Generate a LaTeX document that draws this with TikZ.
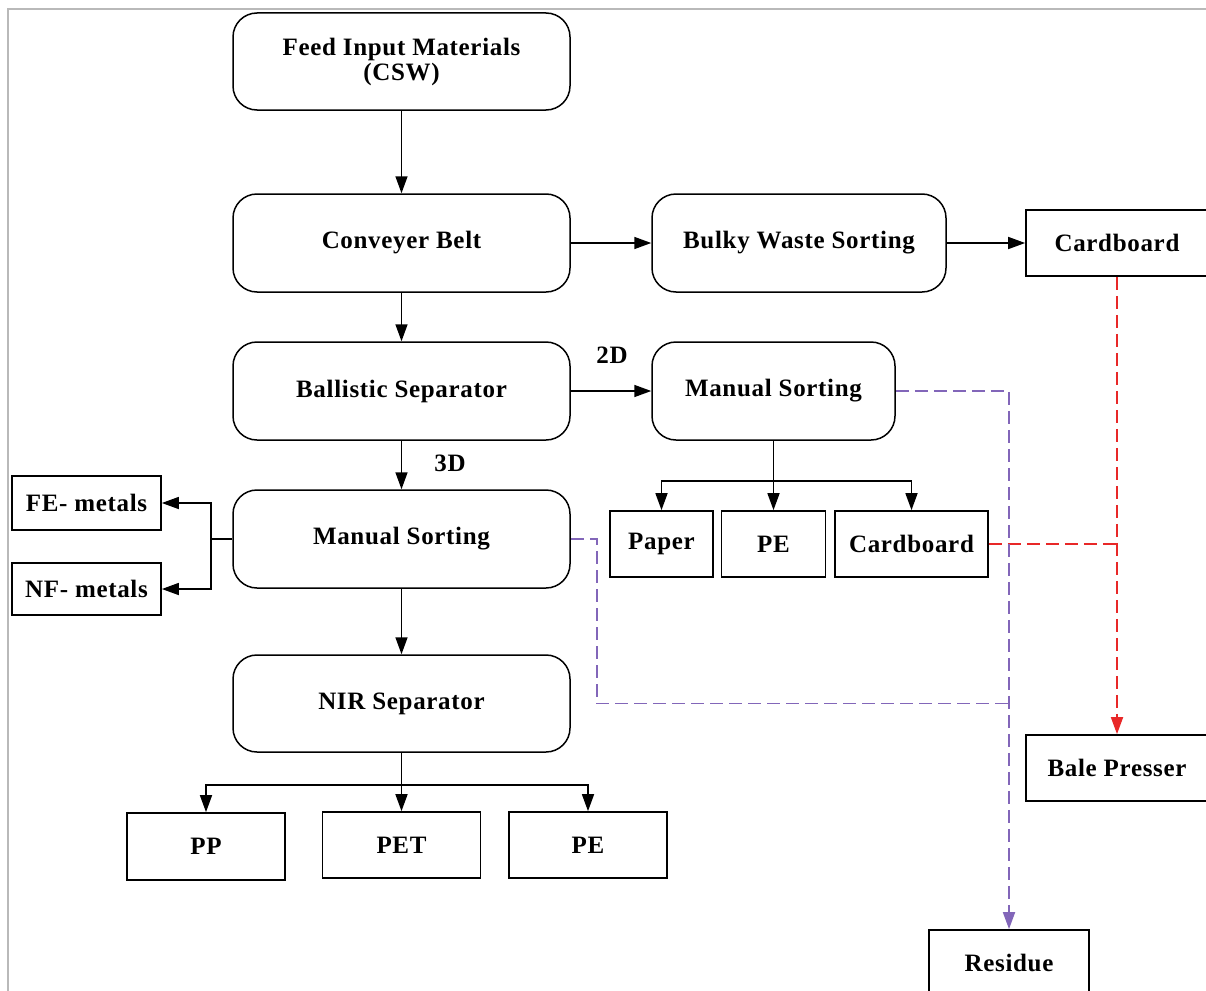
\documentclass[tikz,border=0pt]{standalone}
\usepackage{fontspec}
\setmainfont{Liberation Serif}[LetterSpace=2.7]
\usetikzlibrary{arrows.meta}
\definecolor{framegray}{RGB}{185,185,185}
\definecolor{flowpurple}{RGB}{130,102,185}
\definecolor{flowred}{RGB}{232,40,40}

\begin{document}
\begin{tikzpicture}[x=1pt,y=-1pt,
  every node/.style={font=\fontsize{25}{25}\selectfont\bfseries, align=center, inner sep=0pt},
  rbox/.style={draw, rounded corners=24pt, line width=1.5pt},
  sbox/.style={draw, line width=1.7pt},
  tip/.style={-{Triangle[length=17pt,width=12pt]}},
  flow/.style={line width=1.6pt, tip},
  link/.style={line width=1.6pt},
  purpledash/.style={draw=flowpurple, line width=1.8pt, dash pattern=on 13pt off 6pt},
  reddash/.style={draw=flowred, line width=1.8pt, dash pattern=on 13pt off 6pt},
]
\useasboundingbox (0,0) rectangle (1206,990);

% page frame
\draw[framegray, line width=2pt] (8,995) -- (8,9) -- (1212,9);

% main process chain
\node[rbox, minimum width=337pt, minimum height=97pt] (feed) at (401.5,61.5) {Feed Input Materials\\(CSW)};
\node[rbox, minimum width=337pt, minimum height=98pt] (conv) at (401.5,243) {Conveyer Belt};
\node[rbox, minimum width=337pt, minimum height=98pt] (ball) at (401.5,391) {Ballistic Separator};
\node[rbox, minimum width=337pt, minimum height=98pt] (msl) at (401.5,539) {Manual Sorting};
\node[rbox, minimum width=337pt, minimum height=97pt] (nir) at (401.5,703.5) {NIR Separator};

% side processes
\node[rbox, minimum width=294pt, minimum height=98pt] (bulky) at (799,243) {Bulky Waste Sorting};
\node[rbox, minimum width=243pt, minimum height=98pt] (msr) at (773.5,391) {Manual Sorting};

% output fractions
\node[sbox, minimum width=182pt, minimum height=66pt] (cb1) at (1117,243) {Cardboard};
\node[sbox, minimum width=103pt, minimum height=66pt] (paper) at (661.5,544) {Paper};
\node[sbox, minimum width=104pt, minimum height=66pt] (pe1) at (773.5,544) {PE};
\node[sbox, minimum width=153pt, minimum height=66pt] (cb2) at (911.5,544) {Cardboard};
\node[sbox, minimum width=149pt, minimum height=54pt] (fe) at (86.5,503) {FE- metals};
\node[sbox, minimum width=149pt, minimum height=52pt] (nf) at (86.5,589) {NF- metals};
\node[sbox, minimum width=158pt, minimum height=67pt] (pp) at (206,846.5) {PP};
\node[sbox, minimum width=158pt, minimum height=66pt] (pet) at (401.5,845) {PET};
\node[sbox, minimum width=158pt, minimum height=66pt] (pe2) at (588,845) {PE};
\node[sbox, minimum width=182pt, minimum height=66pt] (bale) at (1117,768) {Bale Presser};
\node[sbox, minimum width=160pt, minimum height=66pt] (res) at (1009,963) {Residue};

% fraction labels
\node (lbl2d) at (612,355) {2D};
\node (lbl3d) at (450,463) {3D};

% main flow
\draw[flow] (feed) -- (conv);
\draw[flow] (conv) -- (ball);
\draw[flow] (ball) -- (msl);
\draw[flow] (msl) -- (nir);
\draw[flow] (conv) -- (bulky);
\draw[flow] (bulky) -- (cb1);
\draw[flow] (ball) -- (msr);

% manual sorting (2D) outputs
\coordinate (msrj) at (773.5,481);
\draw[link] (msr.south) -- (msrj);
\draw[flow] (msrj) -| (paper.north);
\draw[flow] (msrj) -- (pe1.north);
\draw[flow] (msrj) -| (cb2.north);

% metals
\coordinate (mslj) at (211,539);
\draw[link] (msl.west) -- (mslj);
\draw[flow] (mslj) |- (fe.east);
\draw[flow] (mslj) |- (nf.east);

% NIR outputs
\coordinate (nirj) at (401.5,785);
\draw[link] (nir.south) -- (nirj);
\draw[flow] (nirj) -| (pp.north);
\draw[flow] (nirj) -- (pet.north);
\draw[flow] (nirj) -| (pe2.north);

% cardboard to bale presser
\draw[reddash, tip] (cb1.south) -- (bale.north);
\coordinate (redj) at (cb1.south |- cb2.east);
\draw[reddash] (cb2.east) -- (redj);

% residue lines
\draw[purpledash, tip] (msr.east) -| (res.north);
\coordinate (purpj) at (res.north |- nir.east);
\draw[purpledash] (msl.east) -- ++(26,0) |- (purpj);
\end{tikzpicture}
\end{document}
